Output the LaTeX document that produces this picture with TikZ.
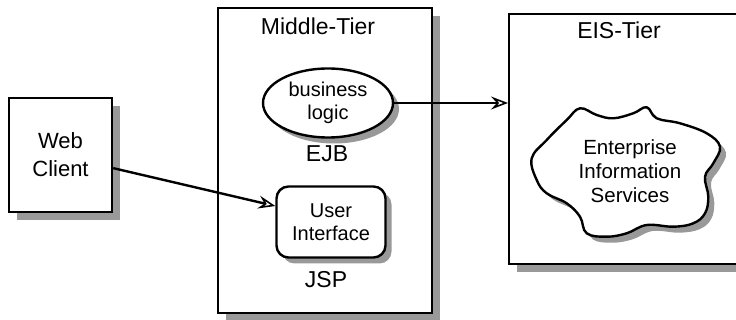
\documentclass[tikz,border=0pt]{standalone}
\usepackage{fontspec}
\setmainfont{Liberation Sans}
\usepackage{tikz}
\usetikzlibrary{shapes.geometric}
\usetikzlibrary{shadows}
\usetikzlibrary{arrows.meta}

\definecolor{shadegray}{gray}{0.6}
\tikzset{
  shade/.style={drop shadow={shadow xshift=#1, shadow yshift=-#1, fill=shadegray, opacity=1}},
  tierbox/.style={draw, line width=2.4pt, fill=white, shade=8pt, inner sep=0pt},
  blob/.style={draw, line width=2.4pt, fill=white, shade=6pt, inner sep=0pt, align=center,
    font=\fontsize{20}{23}\selectfont},
  caption/.style={font=\fontsize{23}{27}\selectfont, inner sep=0pt},
  link/.style={line width=2.4pt, -{Stealth[open, length=17pt, width=13pt, inset=6pt, line width=1.6pt]}}
}

\begin{document}
\begin{tikzpicture}[x=1pt, y=-1pt]
      \clip (0,0) rectangle (736,320);
      \fill[white] (0,0) rectangle (736,320);
      % tiers
      \node[tierbox, minimum width=103pt, minimum height=114pt, align=center,
        font=\fontsize{22}{28}\selectfont] (web) at (60.5,155) {Web\\Client};
      \node[tierbox, minimum width=214pt, minimum height=305pt] (mid) at (325,160.5) {};
      \node[tierbox, minimum width=260pt, minimum height=250pt, anchor=north west] (eis) at (508,13) {};
      \node[caption] (midt) at (318,26) {Middle-Tier};
      \node[caption] (eist) at (619,30) {EIS-Tier};
      % components
      \node[blob, ellipse, minimum width=130pt, minimum height=69pt] (bl) at (328,103) {business\\logic};
      \node[caption] (ejb) at (327,154) {EJB};
      \node[blob, rectangle, rounded corners=12pt, minimum width=109pt, minimum height=71pt] (ui) at (331,222) {User\\Interface};
      \node[caption] (jsp) at (326,280) {JSP};
      \draw[line width=2.4pt, fill=white, shade=6pt] plot[smooth cycle, tension=0.65] coordinates {
        (531.7,158.3) (546.7,140) (566.7,120) (580,108.3) (596.7,115) (613.3,118.3)
        (633.3,113.3) (646.7,107.3) (656.7,118.3) (680,123.3) (706.7,133.3) (720,146.7)
        (713.3,163.3) (705,176.7) (708.3,196.7) (705,213.3) (693.3,223.3) (673.3,226.7)
        (646.7,225) (626.7,233.3) (606.7,236.7) (586.7,233.3) (580,216.7) (566.7,203.3)
        (546.7,193.3) (536.7,180)};
      \node[align=center, font=\fontsize{20.5}{24}\selectfont] (eisv) at (630,171) {Enterprise\\Information\\Services};
      % links
      \draw[link] (web.-14) -- (ui.164);
      \draw[link] (bl.east) -- (eis.west |- bl.east);
    \end{tikzpicture}
\end{document}
